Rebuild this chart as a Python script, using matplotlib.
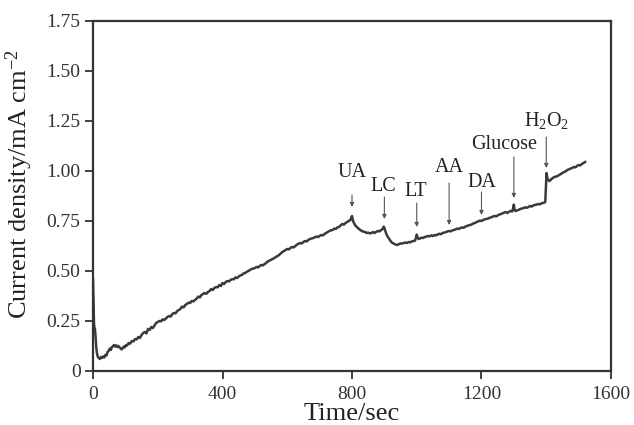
import matplotlib
matplotlib.use("Agg")
import matplotlib.pyplot as plt

plt.rcParams['font.family'] = ['Liberation Serif', 'DejaVu Serif']
plt.rcParams['mathtext.fontset'] = 'custom'
plt.rcParams['mathtext.rm'] = 'Liberation Serif'
plt.rcParams['mathtext.it'] = 'Liberation Serif:italic'

time_s = [
    0, 1, 2, 3, 4, 6, 8, 10, 12, 15,
    18, 21, 25, 28, 31, 35, 38, 42, 45, 48,
    52, 55, 58, 62, 65, 68, 72, 75, 78, 82,
    85, 88, 92, 95, 98, 102, 106, 110, 115, 120,
    125, 130, 135, 140, 145, 150, 155, 160, 165, 170,
    175, 180, 185, 190, 195, 200, 205, 210, 215, 220,
    225, 230, 235, 240, 245, 250, 255, 260, 265, 270,
    275, 280, 285, 290, 295, 300, 305, 310, 315, 320,
    325, 330, 335, 340, 345, 350, 355, 360, 365, 370,
    375, 380, 385, 390, 395, 400, 405, 410, 415, 420,
    425, 430, 435, 440, 445, 450, 455, 460, 465, 470,
    475, 480, 485, 490, 495, 500, 505, 510, 515, 520,
    525, 530, 535, 540, 545, 550, 555, 560, 565, 570,
    575, 580, 585, 590, 595, 600, 605, 610, 615, 620,
    625, 630, 635, 640, 645, 650, 655, 660, 665, 670,
    675, 680, 685, 690, 695, 700, 705, 710, 715, 720,
    725, 730, 735, 740, 745, 750, 755, 760, 765, 770,
    775, 780, 785, 790, 795, 798, 800, 803, 806, 810,
    815, 820, 825, 830, 835, 840, 845, 850, 855, 860,
    865, 870, 875, 880, 885, 890, 895, 898, 900, 903,
    906, 910, 915, 920, 925, 930, 935, 940, 945, 950,
    955, 960, 965, 970, 975, 980, 985, 990, 995, 998,
    1000, 1003, 1006, 1010, 1015, 1020, 1025, 1030, 1035, 1040,
    1045, 1050, 1055, 1060, 1065, 1070, 1075, 1080, 1085, 1090,
    1095, 1100, 1105, 1110, 1115, 1120, 1125, 1130, 1135, 1140,
    1145, 1150, 1155, 1160, 1165, 1170, 1175, 1180, 1185, 1190,
    1195, 1200, 1205, 1210, 1215, 1220, 1225, 1230, 1235, 1240,
    1245, 1250, 1255, 1260, 1265, 1270, 1275, 1280, 1285, 1290,
    1295, 1298, 1300, 1302, 1305, 1310, 1315, 1320, 1325, 1330,
    1335, 1340, 1345, 1350, 1355, 1360, 1365, 1370, 1375, 1380,
    1385, 1390, 1394, 1397, 1399, 1401, 1403, 1406, 1410, 1415,
    1420, 1425, 1430, 1435, 1440, 1445, 1450, 1455, 1460, 1465,
    1470, 1475, 1480, 1485, 1490, 1495, 1500, 1505, 1510, 1515,
    1520,
]

current = [
    0.46, 0.38, 0.30, 0.24, 0.22, 0.21, 0.17, 0.12, 0.09, 0.07,
    0.065, 0.06, 0.07, 0.065, 0.072, 0.068, 0.08, 0.078, 0.095, 0.10,
    0.112, 0.105, 0.118, 0.125, 0.13, 0.122, 0.128, 0.12, 0.125, 0.118,
    0.112, 0.108, 0.115, 0.122, 0.118, 0.13, 0.128, 0.14, 0.137, 0.15,
    0.148, 0.16, 0.158, 0.17, 0.165, 0.18, 0.19, 0.195, 0.188, 0.21,
    0.205, 0.22, 0.215, 0.228, 0.24, 0.245, 0.25, 0.248, 0.258, 0.255,
    0.262, 0.27, 0.275, 0.272, 0.285, 0.29, 0.288, 0.30, 0.305, 0.31,
    0.322, 0.318, 0.33, 0.335, 0.342, 0.34, 0.35, 0.348, 0.355, 0.362,
    0.372, 0.368, 0.38, 0.385, 0.39, 0.386, 0.395, 0.40, 0.41, 0.405,
    0.415, 0.42, 0.418, 0.43, 0.425, 0.44, 0.435, 0.445, 0.45, 0.448,
    0.455, 0.46, 0.458, 0.468, 0.465, 0.472, 0.478, 0.48, 0.488, 0.49,
    0.496, 0.50, 0.505, 0.51, 0.512, 0.515, 0.52, 0.518, 0.525, 0.53,
    0.528, 0.535, 0.54, 0.548, 0.552, 0.556, 0.56, 0.565, 0.57, 0.575,
    0.58, 0.588, 0.595, 0.60, 0.605, 0.61, 0.608, 0.615, 0.62, 0.618,
    0.625, 0.632, 0.636, 0.64, 0.638, 0.645, 0.65, 0.648, 0.655, 0.66,
    0.662, 0.665, 0.668, 0.672, 0.67, 0.675, 0.68, 0.678, 0.685, 0.69,
    0.695, 0.70, 0.703, 0.705, 0.712, 0.71, 0.718, 0.72, 0.728, 0.735,
    0.732, 0.74, 0.745, 0.75, 0.755, 0.768, 0.775, 0.752, 0.74, 0.728,
    0.72, 0.712, 0.706, 0.70, 0.697, 0.695, 0.69, 0.692, 0.688, 0.69,
    0.695, 0.69, 0.696, 0.70, 0.698, 0.705, 0.71, 0.722, 0.715, 0.70,
    0.685, 0.672, 0.66, 0.648, 0.64, 0.636, 0.632, 0.63, 0.634, 0.638,
    0.637, 0.64, 0.642, 0.64, 0.645, 0.643, 0.648, 0.65, 0.652, 0.668,
    0.682, 0.665, 0.66, 0.662, 0.667, 0.665, 0.67, 0.672, 0.675, 0.673,
    0.678, 0.675, 0.68, 0.678, 0.683, 0.686, 0.684, 0.69, 0.692, 0.694,
    0.698, 0.70, 0.698, 0.703, 0.705, 0.708, 0.712, 0.71, 0.715, 0.718,
    0.716, 0.722, 0.725, 0.728, 0.73, 0.733, 0.738, 0.74, 0.745, 0.748,
    0.752, 0.75, 0.755, 0.758, 0.76, 0.762, 0.766, 0.768, 0.772, 0.775,
    0.773, 0.778, 0.782, 0.785, 0.788, 0.792, 0.795, 0.79, 0.796, 0.80,
    0.798, 0.815, 0.832, 0.805, 0.80, 0.803, 0.806, 0.81, 0.812, 0.815,
    0.818, 0.816, 0.82, 0.825, 0.822, 0.828, 0.83, 0.832, 0.835, 0.833,
    0.838, 0.84, 0.842, 0.845, 0.92, 0.99, 0.965, 0.955, 0.95, 0.958,
    0.965, 0.97, 0.972, 0.975, 0.98, 0.985, 0.99, 0.995, 0.998, 1.005,
    1.008, 1.012, 1.015, 1.02, 1.018, 1.025, 1.03, 1.028, 1.035, 1.04,
    1.045,
]

annot_labels = ['UA', 'LC', 'LT', 'AA', 'DA', 'Glucose', r'H$_2$O$_2$']
annot_times = [800, 900, 1000, 1100, 1200, 1300, 1400]
annot_tip = [0.82, 0.76, 0.72, 0.73, 0.78, 0.865, 1.015]
annot_tail = [0.88, 0.87, 0.84, 0.94, 0.895, 1.07, 1.17]
label_x = [800, 898, 997, 1102, 1200, 1270, 1400]
label_y = [0.99, 0.92, 0.895, 1.015, 0.94, 1.13, 1.25]

fig = plt.figure(figsize=(6.34, 4.25), dpi=100)
ax = fig.add_axes([0.1467, 0.1271, 0.817, 0.8235])

ax.plot(time_s, current, color='#3a3a3a', lw=1.8, solid_joinstyle='round')

for lab, t, tip, tail, lx, ly in zip(annot_labels, annot_times, annot_tip, annot_tail, label_x, label_y):
    ax.annotate('', xy=(t, tip), xytext=(t, tail),
                arrowprops=dict(arrowstyle='-|>', color='#555555', lw=0.8,
                                mutation_scale=6, shrinkA=0, shrinkB=0))
    ax.text(lx, ly, lab, ha='center', va='center', fontsize=14.5, color='#222222')

ax.set_xlim(0, 1600)
ax.set_ylim(0, 1.75)
ax.set_xticks([0, 400, 800, 1200, 1600])
ax.set_xticklabels(['0', '400', '800', '1200', '1600'])
ax.set_yticks([0, 0.25, 0.5, 0.75, 1.0, 1.25, 1.5, 1.75])
ax.set_yticklabels(['0', '0.25', '0.50', '0.75', '1.00', '1.25', '1.50', '1.75'])
ax.tick_params(axis='both', direction='out', length=6, width=1.3, labelsize=14,
               colors='#333333')
ax.tick_params(axis='x', pad=5)
ax.tick_params(axis='y', pad=3)
for s in ax.spines.values():
    s.set_linewidth(1.6)
    s.set_color('#333333')

ax.set_xlabel('Time/sec', fontsize=19, color='#222222', labelpad=0)
ax.set_ylabel('Current density/mA cm$^{-2}$', fontsize=19, color='#222222',
              labelpad=8, y=0.535)

fig.savefig('out.png', dpi=100)
